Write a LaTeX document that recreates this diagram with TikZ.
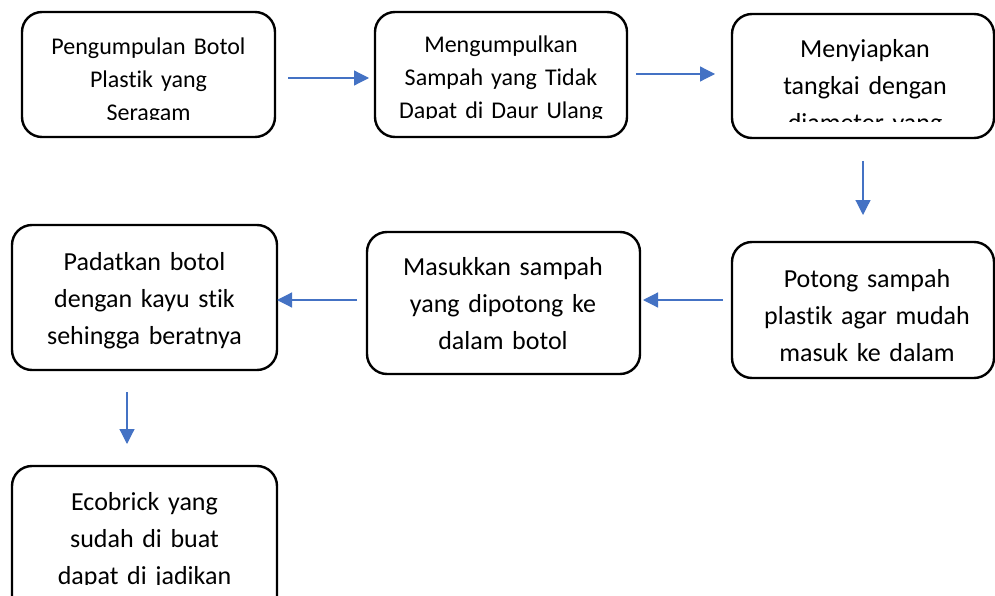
\documentclass[tikz,border=0pt]{standalone}
\usepackage{fontspec}
\setmainfont{Carlito}[Ligatures={NoCommon}]
\usetikzlibrary{arrows.meta}
\definecolor{arrowblue}{HTML}{4472C4}
\tikzset{
  stepbox/.style={draw=black, line width=2.4pt, rounded corners=20pt, inner sep=0pt, fill=white},
  smalltxt/.style={anchor=base, align=center, inner sep=0pt, font={\fontsize{24}{33}\selectfont}},
  bigtxt/.style={anchor=base, align=center, inner sep=0pt, font={\fontsize{26}{37}\selectfont}},
  flow/.style={draw=arrowblue, line width=1.2pt, -{Triangle[length=15pt,width=15pt]}}
}
\begin{document}
\begin{tikzpicture}[x=1pt,y=-1pt]
\clip (0,0) rectangle (995,596);
\fill[white] (0,0) rectangle (995,596);
% boxes
\draw[stepbox] (22,12) rectangle (275,137) node[pos=0.5] (b1) {};
\draw[stepbox] (375,12) rectangle (627,137) node[pos=0.5] (b2) {};
\draw[stepbox] (732,14) rectangle (994,138) node[pos=0.5] (b3) {};
\draw[stepbox] (732,242) rectangle (994,378) node[pos=0.5] (b4) {};
\draw[stepbox] (367,232) rectangle (640,374) node[pos=0.5] (b5) {};
\draw[stepbox] (12,225) rectangle (277,370) node[pos=0.5] (b6) {};
\draw[stepbox] (12,466) rectangle (277,630) node[pos=0.5] (b7) {};
% texts
\begin{scope}
\clip (22,12) rectangle (275,120);
\node[smalltxt, text width=245pt] (t1) at (148.5,55) {Pengumpulan Botol\\Plastik yang\\Seragam};
\end{scope}
\begin{scope}
\clip (375,12) rectangle (627,118.5);
\node[smalltxt, text width=245pt] (t2) at (501,53) {Mengumpulkan\\Sampah yang Tidak\\Dapat di Daur Ulang};
\end{scope}
\begin{scope}
\clip (732,14) rectangle (994,122);
\node[bigtxt, text width=250pt] (t3) at (865,58) {Menyiapkan\\tangkai dengan\\diameter yang};
\end{scope}
\node[bigtxt, text width=250pt] (t4) at (867,287) {Potong sampah\\plastik agar mudah\\masuk ke dalam};
\node[bigtxt, text width=260pt] (t5) at (503,275) {Masukkan sampah\\yang dipotong ke\\dalam botol};
\node[bigtxt, text width=255pt] (t6) at (144.5,270) {Padatkan botol\\dengan kayu stik\\sehingga beratnya};
\begin{scope}
\clip (12,466) rectangle (277,584);
\node[bigtxt, text width=255pt] (t7) at (144.5,510) {Ecobrick yang\\sudah di buat\\dapat di jadikan};
\end{scope}
% arrows
\coordinate (a1s) at (288,78);  \coordinate (a1e) at (369,78);
\coordinate (a2s) at (636,74);  \coordinate (a2e) at (715,74);
\coordinate (a3s) at (863,161); \coordinate (a3e) at (863,215);
\coordinate (a4s) at (723,300); \coordinate (a4e) at (643,300);
\coordinate (a5s) at (357,300); \coordinate (a5e) at (277,300);
\coordinate (a6s) at (127,392); \coordinate (a6e) at (127,444);
\draw[flow] (a1s) -- (a1e);
\draw[flow] (a2s) -- (a2e);
\draw[flow] (a3s) -- (a3e);
\draw[flow] (a4s) -- (a4e);
\draw[flow] (a5s) -- (a5e);
\draw[flow] (a6s) -- (a6e);
\end{tikzpicture}
\end{document}
